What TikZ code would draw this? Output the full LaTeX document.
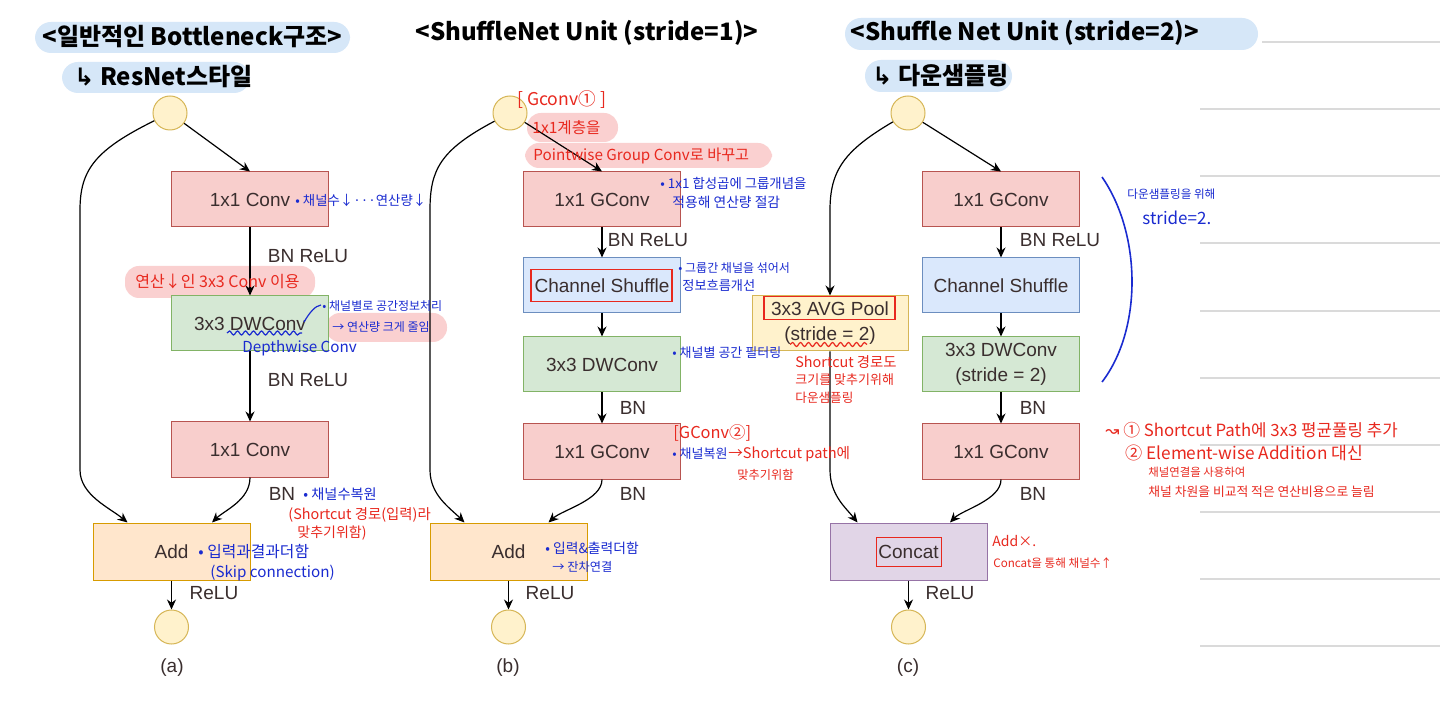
\documentclass[tikz,border=0pt]{standalone}
\usepackage{fontspec}
\setmainfont{Liberation Sans}
\newfontfamily\kr{Noto Sans CJK KR}
\newfontfamily\dv{DejaVu Sans}
\usetikzlibrary{arrows.meta,calc,decorations.pathmorphing}
\definecolor{pinkF}{HTML}{F8CECC}\definecolor{pinkD}{HTML}{B85450}
\definecolor{greenF}{HTML}{D5E8D4}\definecolor{greenD}{HTML}{82B366}
\definecolor{blueF}{HTML}{DAE8FC}\definecolor{blueD}{HTML}{6C8EBF}
\definecolor{orF}{HTML}{FFE6CC}\definecolor{orD}{HTML}{D79B00}
\definecolor{yelF}{HTML}{FFF2CC}\definecolor{yelD}{HTML}{D6B656}
\definecolor{purF}{HTML}{E1D5E7}\definecolor{purD}{HTML}{9673A6}
\definecolor{txt}{HTML}{3A2E2E}
\definecolor{hblue}{HTML}{1A2BD0}
\definecolor{hred}{HTML}{E8281E}
\definecolor{hlblue}{HTML}{D6E7F8}
\definecolor{hlpink}{HTML}{FAD0D0}
\definecolor{gridc}{HTML}{DADADA}
\newcommand\ksz[1]{\kr\fontsize{#1}{#1}\selectfont}
\tikzset{
  box/.style={draw, line width=0.5pt, minimum width=78.5pt, minimum height=27.5pt,
    inner sep=0pt, text=txt, font=\fontsize{9.5}{12.5}\selectfont, align=center},
  pinkb/.style={box, fill=pinkF, draw=pinkD},
  greenb/.style={box, fill=greenF, draw=greenD},
  blueb/.style={box, fill=blueF, draw=blueD},
  orb/.style={box, fill=orF, draw=orD, minimum height=28.5pt},
  yelb/.style={box, fill=yelF, draw=yelD, minimum width=78pt},
  purb/.style={box, fill=purF, draw=purD, minimum height=28.5pt},
  circ/.style={circle, draw=yelD, fill=yelF, line width=0.5pt, minimum size=17pt, inner sep=0pt},
  arr/.style={-{Stealth[length=5pt,width=4.5pt]}, line width=0.6pt, black},
  lbl/.style={text=txt, font=\fontsize{9.5}{11}\selectfont, inner sep=0pt},
  bl/.style={text=hblue, inner sep=0pt, anchor=west},
  rd/.style={text=hred, inner sep=0pt, anchor=west},
  ttl/.style={text=black, inner sep=0pt, anchor=west, font=\kr\bfseries\fontsize{12}{14}\selectfont},
  hlb/.style={fill=hlblue, rounded corners=8pt},
  hlp/.style={fill=hlpink, rounded corners=7pt},
  redrect/.style={draw=hred, line width=0.9pt},
  wavy/.style={decorate, decoration={snake, amplitude=1pt, segment length=4pt}, line width=0.6pt},
  gline/.style={draw=gridc, line width=0.6pt}
}
\begin{document}
\begin{tikzpicture}[x=0.5pt,y=-0.5pt]
\useasboundingbox (0,0) rectangle (1440,705);
\fill[white] (0,0) rectangle (1440,705);
% notebook lines
\draw[gline] (1262,42) -- (1440,42);
\foreach \yy in {109,176,243,311,378,445,512,579,646} {\draw[gline] (1200,\yy) -- (1440,\yy);}
% highlights
\fill[hlb] (35,22) rectangle (350,53);
\fill[hlb] (62,62) rectangle (250,93);
\fill[hlb] (845,18) rectangle (1258,50);
\fill[hlb] (865,60) rectangle (1012,92);
\fill[hlp] (125,266) rectangle (315,298);
\fill[hlp] (326,313) rectangle (447,342);
\fill[hlp] (527,113) rectangle (618,142);
\fill[hlp] (525,143) rectangle (772,168);

% ---------- (a) ----------
\node[circ] (a0) at (170,113) {};
\node[pinkb] (a1) at (250,199.5) {1x1 Conv};
\node[greenb] (a2) at (250,323.5) {3x3 DWConv};
\node[pinkb] (a3) at (250,449.5) {1x1 Conv};
\node[orb] (aAdd) at (171.5,551.5) {Add};
\node[circ] (aOut) at (171.5,627) {};
\draw[arr] (a0) -- (a1.north);
\draw[arr] (a1) -- (a2);
\draw[arr] (a2) -- (a3);
\draw[arr] (a0) .. controls (95,150) and (80,170) .. (80,210) -- (80,470) .. controls (80,495) and (110,508) .. ($(aAdd.north west)+(35,0)$);
\draw[arr] (a3.south) .. controls (250,500) and (225,510) .. ($(aAdd.north)+(40.5,0)$);
\draw[arr] (aAdd) -- (aOut);
\node[lbl] (aL1) at (308,256) {BN ReLU};
\node[lbl] (aL2) at (308,380) {BN ReLU};
\node[lbl] (aL3) at (282,494) {BN};
\node[lbl] (aL4) at (214,593) {ReLU};
\node[lbl] (aCap) at (172,668) {(a)};

% ---------- (b) ----------
\node[circ] (b0) at (510,113) {};
\node[pinkb] (b1) at (602,199.5) {1x1 GConv};
\node[blueb] (b2) at (602,285.5) {Channel Shuffle};
\node[greenb] (b3) at (602,364.5) {3x3 DWConv};
\node[pinkb] (b4) at (602,451.5) {1x1 GConv};
\node[orb] (bAdd) at (508.5,551.5) {Add};
\node[circ] (bOut) at (508.5,627) {};
\draw[arr] (b0) -- (b1.north);
\draw[arr] (b1) -- (b2);
\draw[arr] (b2) -- (b3);
\draw[arr] (b3) -- (b4);
\draw[arr] (b0) .. controls (440,150) and (430,170) .. (430,210) -- (430,470) .. controls (430,495) and (450,508) .. ($(bAdd.north west)+(35,0)$);
\draw[arr] (b4.south) .. controls (602,500) and (562,510) .. ($(bAdd.north)+(40,0)$);
\draw[arr] (bAdd) -- (bOut);
\draw[redrect] ($(b2.center)+(-71,-16)$) rectangle ($(b2.center)+(70,16)$);
\node[lbl] (bL1) at (648,240) {BN ReLU};
\node[lbl] (bL2) at (633,408) {BN};
\node[lbl] (bL3) at (633,494) {BN};
\node[lbl] (bL4) at (550,593) {ReLU};
\node[lbl] (bCap) at (508,668) {(b)};

% ---------- (c) ----------
\node[circ] (c0) at (908,113) {};
\node[pinkb] (c1) at (1001,199.5) {1x1 GConv};
\node[blueb] (c2) at (1001,285.5) {Channel Shuffle};
\node[greenb] (c3) at (1001,364.5) {3x3 DWConv\\(stride = 2)};
\node[pinkb] (c4) at (1001,451.5) {1x1 GConv};
\node[yelb] (cPool) at (830,323.5) {3x3 AVG Pool\\(stride = 2)};
\node[purb] (cCat) at (908.5,551.5) {Concat};
\node[circ] (cOut) at (908.5,627) {};
\draw[arr] (c0) -- (c1.north);
\draw[arr] (c1) -- (c2);
\draw[arr] (c2) -- (c3);
\draw[arr] (c3) -- (c4);
\draw[arr] (c0) .. controls (845,150) and (830,170) .. (830,210) -- (cPool.north);
\draw[arr] (cPool.south) -- (830,470) .. controls (830,495) and (846,508) .. ($(cCat.north west)+(28,0)$);
\draw[arr] (c4.south) .. controls (1001,500) and (962,510) .. ($(cCat.north)+(41.5,0)$);
\draw[arr] (cCat) -- (cOut);
\draw[redrect] ($(cPool.center)+(-66,-27)$) rectangle ($(cPool.center)+(65,-4)$);
\draw[redrect] ($(cCat.center)+(-32,-14)$) rectangle ($(cCat.center)+(33,15)$);
\draw[hred, wavy] ($(cPool.center)+(-40,21)$) -- ($(cPool.center)+(37,21)$);
\node[lbl] (cL1) at (1060,240) {BN ReLU};
\node[lbl] (cL2) at (1033,408) {BN};
\node[lbl] (cL3) at (1033,494) {BN};
\node[lbl] (cL4) at (950,593) {ReLU};
\node[lbl] (cCap) at (908,668) {(c)};

% ---------- titles ----------
\node[ttl] (t1) at (42,37) {<일반적인 Bottleneck구조>};
\node[ttl] (t1b) at (74,77) {{\dv ↳} ResNet스타일};
\node[ttl] (t2) at (415,33) {<ShuffleNet Unit (stride=1)>};
\node[ttl] (t3) at (850,33) {<Shuffle Net Unit (stride=2)>};
\node[ttl] (t3b) at (872,76) {{\dv ↳} 다운샘플링};

% ---------- annotations (a) ----------
\node[bl, font=\ksz{6.7}] (nA1) at (295,200) {• 채널수↓···연산량↓};
\node[rd, font=\ksz{8}] (nA2) at (135,281) {연산↓인 3x3 Conv 이용};
\node[bl, font=\ksz{6}] (nA3) at (322,306) {• 채널별로 공간정보처리};
\node[bl, font=\ksz{6}] (nA4) at (332,327) {→ 연산량 크게 줄임};
\node[bl, font=\ksz{7.6}] (nA5) at (242,348) {Depthwise Conv};
\draw[hblue, wavy] (227,333) -- (302,333);
\draw[hblue, line width=0.6pt] (304,322) .. controls (310,312) and (315,306) .. (321,305);
\node[bl, font=\ksz{7.1}] (nA6) at (303,494) {• 채널수복원};
\node[rd, font=\ksz{7.2}] (nA7) at (288,515) {(Shortcut 경로(입력)라};
\node[rd, font=\ksz{7}] (nA8) at (297,533) {맞추기위함)};
\node[bl, font=\ksz{7.9}] (nA9) at (198,552) {• 입력과결과더함};
\node[bl, font=\ksz{7.6}] (nA10) at (210,573) {(Skip connection)};

% ---------- annotations (b) ----------
\node[rd, font=\ksz{8.8}] (nB1) at (517,100) {[ Gconv① ]};
\node[rd, font=\ksz{7.8}] (nB2) at (532,128) {1x1계층을};
\node[rd, font=\ksz{7.6}] (nB3) at (533,156) {Pointwise Group Conv로 바꾸고};
\node[bl, font=\ksz{6.7}] (nB4) at (660,183) {• 1x1 합성곱에 그룹개념을};
\node[bl, font=\ksz{6.9}] (nB5) at (672,202) {적용해 연산량 절감};
\node[bl, font=\ksz{6}] (nB6) at (678,268) {• 그룹간 채널을 섞어서};
\node[bl, font=\ksz{6.6}] (nB7) at (682,286) {정보흐름개선};
\node[bl, font=\ksz{6.5}] (nB8) at (672,353) {• 채널별 공간 필터링};
\node[rd, font=\ksz{8.2}] (nB9) at (673,433) {[GConv②]};
\node[bl, font=\ksz{6.5}] (nB10) at (672,454) {• 채널복원};
\node[rd, font=\ksz{7.3}, anchor=west] (nB11) at (nB10.east) {→Shortcut path에};
\node[rd, font=\ksz{6.1}] (nB12) at (737,475) {맞추기위함};
\node[bl, font=\ksz{6.9}] (nB13) at (545,548) {• 입력\&출력더함};
\node[bl, font=\ksz{6.1}] (nB14) at (552,567) {→ 잔차연결};

% ---------- annotations (c) ----------
\draw[hblue, line width=0.8pt] (1102,177) .. controls (1142,235) and (1142,330) .. (1102,382);
\node[bl, font=\ksz{5.8}] (nC1) at (1127,194) {다운샘플링을 위해};
\node[bl, font=\ksz{8.5}] (nC2) at (1142,218) {stride=2.};
\node[rd, font=\ksz{7.2}] (nC3) at (795,362) {Shortcut 경로도};
\node[rd, font=\ksz{6.5}] (nC4) at (795,380) {크기를 맞추기위해};
\node[rd, font=\ksz{6.3}] (nC5) at (795,398) {다운샘플링};
\node[rd, font=\ksz{7}] (nC6) at (992,541) {Add×.};
\node[rd, font=\ksz{5.8}] (nC7) at (993,563) {Concat을 통해 채널수↑};
\node[rd, font=\ksz{8.4}] (nC8) at (1105,430) {{\dv ↝} ① Shortcut Path에 3x3 평균풀링 추가};
\node[rd, font=\ksz{8.6}] (nC9) at (1125,453) {② Element-wise Addition 대신};
\node[rd, font=\ksz{5.7}] (nC10) at (1148,472) {채널연결을 사용하여};
\node[rd, font=\ksz{6.4}] (nC11) at (1148,492) {채널 차원을 비교적 적은 연산비용으로 늘림};
\end{tikzpicture}
\end{document}
